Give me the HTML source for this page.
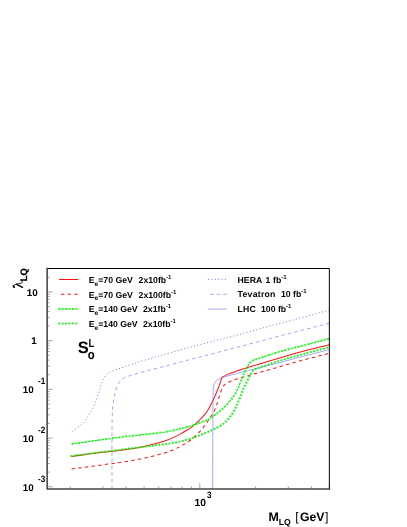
<!DOCTYPE html>
<html><head><meta charset="utf-8"><style>
html,body{margin:0;padding:0;background:#fff;}
body{width:407px;height:527px;overflow:hidden;}
svg{display:block;}
text{font-family:"Liberation Sans",sans-serif;font-weight:bold;fill:#000;text-rendering:geometricPrecision;}
.lg{font-size:8.7px;}
.sup{font-size:6.0px;}
.sub{font-size:6.6px;}
.ax{font-size:10.3px;}
.ex{font-size:8.2px;}
.ay{font-size:9.8px;}
</style></head><body>
<svg width="407" height="527" viewBox="0 0 407 527" style="will-change:transform">
<rect width="407" height="527" fill="#fff"/>
<g fill="none" stroke-linejoin="round">
<g stroke="#0000ff" stroke-width="0.35">
<path transform="translate(0.4,0.45)" d="M72.20,430.90 C73.80,429.63 75.41,428.38 77.00,427.10 C78.75,425.68 80.62,424.38 82.20,422.80 C83.78,421.22 85.20,419.43 86.50,417.60 C88.07,415.40 89.47,413.06 90.80,410.70 C92.04,408.49 93.18,406.22 94.20,403.90 C95.18,401.65 95.98,399.32 96.80,397.00 C97.61,394.72 98.38,392.41 99.10,390.10 C99.81,387.81 100.33,385.46 101.10,383.20 C101.69,381.46 102.32,379.70 103.20,378.10 C104.05,376.56 105.03,374.98 106.30,373.80 C107.50,372.68 109.09,371.92 110.60,371.20 C112.53,370.28 114.58,369.62 116.60,368.90 C119.45,367.89 122.33,366.97 125.20,366.00 C128.07,365.03 130.94,364.08 133.80,363.10 C135.04,362.68 136.25,362.18 137.50,361.80 C144.98,359.54 152.50,357.39 160.00,355.20 C167.83,352.92 175.64,350.55 183.50,348.40 C192.30,345.99 201.16,343.79 210.00,341.50 C217.63,339.52 225.29,337.64 232.90,335.60 C241.95,333.17 250.95,330.54 260.00,328.10 C268.02,325.94 276.08,323.94 284.10,321.80 C299.15,317.78 314.17,313.67 329.20,309.60" stroke-dasharray="1.0 2.4" stroke-width="0.55"/>
<path transform="translate(0.4,0.45)" d="M111.60,488.50 C111.60,470.33 111.51,452.17 111.60,434.00 C111.64,426.53 111.68,419.06 112.00,411.60 C112.15,408.16 112.55,404.72 113.00,401.30 C113.38,398.42 113.84,395.53 114.50,392.70 C115.04,390.36 115.63,387.98 116.60,385.80 C117.47,383.85 118.59,381.88 120.00,380.30 C121.16,379.01 122.76,378.04 124.30,377.20 C125.93,376.31 127.74,375.71 129.50,375.10 C131.30,374.48 133.16,374.00 135.00,373.50 C143.32,371.26 151.67,369.10 160.00,366.90 C168.33,364.70 176.66,362.48 185.00,360.30 C193.33,358.12 201.67,355.97 210.00,353.80 C218.33,351.63 226.67,349.48 235.00,347.30 C243.34,345.12 251.67,342.91 260.00,340.70 C268.03,338.57 276.06,336.39 284.10,334.30 C299.12,330.39 314.17,326.57 329.20,322.70" stroke-dasharray="3.7 2.9"/>
<path transform="translate(0.4,0.45)" d="M212.20,488.50 C212.27,472.33 212.33,456.17 212.40,440.00 C212.46,426.67 212.49,413.33 212.60,400.00 C212.63,396.53 212.55,393.05 212.80,389.60 C212.95,387.52 213.15,385.34 213.80,383.40 C214.18,382.27 215.03,381.22 215.90,380.40 C216.76,379.59 217.93,379.07 219.00,378.50 C220.07,377.93 221.16,377.38 222.30,377.00 C225.46,375.95 228.68,375.06 231.90,374.20 C232.92,373.93 233.98,373.87 235.00,373.60 C238.05,372.77 241.04,371.68 244.10,370.90 C249.37,369.55 254.72,368.53 260.00,367.20 C268.36,365.10 276.67,362.83 285.00,360.60 C290.01,359.26 294.98,357.81 300.00,356.50 C309.72,353.97 319.47,351.57 329.20,349.10"/>
<path d="M208,279.3H227" stroke-dasharray="1.0 2.4" stroke-width="0.55"/>
<path d="M208,294.3H227" stroke-dasharray="3.7 2.9" stroke-dashoffset="-2.1"/>
<path d="M208,309.1H227"/>
</g>
<g stroke="#ff1212" stroke-width="1.02">
<path transform="translate(0.4,0.45)" d="M71.20,456.00 C80.80,454.70 90.39,453.29 100.00,452.10 C104.99,451.49 110.01,451.19 115.00,450.60 C119.91,450.02 124.82,449.39 129.70,448.60 C134.65,447.79 139.60,446.88 144.50,445.80 C149.43,444.71 154.31,443.39 159.20,442.10 C161.15,441.59 163.10,441.07 165.00,440.40 C167.50,439.51 169.98,438.50 172.40,437.40 C174.88,436.27 177.31,435.02 179.70,433.70 C182.21,432.32 184.69,430.85 187.10,429.30 C189.62,427.68 192.20,426.10 194.50,424.20 C196.63,422.43 198.44,420.28 200.40,418.30 C201.48,417.21 202.62,416.18 203.60,415.00 C204.92,413.41 206.21,411.76 207.30,410.00 C208.67,407.79 209.81,405.42 211.00,403.10 C212.05,401.06 213.05,398.99 214.00,396.90 C215.09,394.49 216.12,392.06 217.10,389.60 C217.99,387.36 218.77,385.07 219.60,382.80 C220.20,381.17 220.73,379.50 221.40,377.90 C221.63,377.36 222.00,376.90 222.30,376.40 C223.83,375.67 225.33,374.84 226.90,374.20 C229.73,373.04 232.62,372.03 235.50,371.00 C238.65,369.87 241.80,368.70 245.00,367.70 C249.97,366.14 255.01,364.79 260.00,363.30 C268.34,360.82 276.65,358.24 285.00,355.80 C289.98,354.34 294.98,352.91 300.00,351.60 C309.71,349.07 319.47,346.73 329.20,344.30"/>
<path transform="translate(0.4,0.45)" d="M71.20,468.50 C80.80,467.23 90.40,465.99 100.00,464.70 C107.50,463.69 115.00,462.66 122.50,461.60 C124.90,461.26 127.31,460.93 129.70,460.50 C134.65,459.60 139.60,458.70 144.50,457.60 C149.43,456.50 154.31,455.16 159.20,453.90 C161.14,453.40 163.10,452.93 165.00,452.30 C167.50,451.47 169.97,450.52 172.40,449.50 C174.87,448.46 177.33,447.36 179.70,446.10 C182.23,444.76 184.73,443.31 187.10,441.70 C189.67,439.95 192.16,438.04 194.50,436.00 C196.59,434.18 198.58,432.19 200.40,430.10 C202.24,427.99 203.86,425.68 205.50,423.40 C207.06,421.24 208.50,419.00 210.00,416.80 C210.73,415.73 211.56,414.72 212.20,413.60 C213.12,411.99 213.98,410.32 214.70,408.60 C215.61,406.42 216.35,404.15 217.10,401.90 C217.98,399.25 218.74,396.56 219.60,393.90 C220.17,392.12 220.67,390.31 221.40,388.60 C221.97,387.25 222.80,386.00 223.50,384.70 C224.63,383.93 225.67,382.99 226.90,382.40 C229.67,381.06 232.59,379.93 235.50,378.90 C238.62,377.80 241.82,376.92 245.00,376.00 C249.99,374.55 255.01,373.22 260.00,371.80 C268.34,369.42 276.67,367.00 285.00,364.60 C290.33,363.07 295.64,361.43 301.00,360.00 C310.37,357.50 319.80,355.20 329.20,352.80" stroke-dasharray="3.35 3.35"/>
<path d="M59.1,279.5H78.1"/>
<path d="M59.1,294.3H78.1" stroke-dasharray="3.35 3.35" stroke-dashoffset="-1.8"/>
</g>
<g stroke="#00ff00">
<path transform="translate(0.4,0.45)" d="M71.20,443.40 C80.80,442.10 90.40,440.80 100.00,439.50 C108.33,438.37 116.65,437.13 125.00,436.10 C131.49,435.30 138.01,434.75 144.50,434.00 C151.34,433.21 158.21,432.60 165.00,431.50 C169.95,430.70 174.83,429.50 179.70,428.30 C184.67,427.07 189.66,425.84 194.50,424.20 C199.49,422.51 204.45,420.54 209.20,418.30 C210.95,417.48 212.45,416.16 214.00,415.00 C215.91,413.56 217.79,412.06 219.60,410.50 C221.69,408.70 223.80,406.89 225.70,404.90 C227.90,402.59 230.03,400.18 231.90,397.60 C233.73,395.08 235.41,392.39 236.80,389.60 C238.37,386.45 239.45,383.06 240.80,379.80 C241.88,377.19 242.92,374.56 244.10,372.00 C244.75,370.59 245.54,369.25 246.30,367.90 C247.40,365.95 248.33,363.83 249.70,362.10 C250.50,361.09 251.77,360.50 252.80,359.70 C255.07,359.00 257.34,358.33 259.60,357.60 C263.71,356.27 267.78,354.80 271.90,353.50 C276.25,352.13 280.61,350.80 285.00,349.60 C289.97,348.24 295.01,347.10 300.00,345.80 C309.74,343.27 319.47,340.67 329.20,338.10" stroke-width="1.2" stroke-dasharray="3.1 3.7" stroke-dashoffset="-2.6"/>
<path transform="translate(0.4,0.45)" d="M71.20,443.40 C80.80,442.10 90.40,440.80 100.00,439.50 C108.33,438.37 116.65,437.13 125.00,436.10 C131.49,435.30 138.01,434.75 144.50,434.00 C151.34,433.21 158.21,432.60 165.00,431.50 C169.95,430.70 174.83,429.50 179.70,428.30 C184.67,427.07 189.66,425.84 194.50,424.20 C199.49,422.51 204.45,420.54 209.20,418.30 C210.95,417.48 212.45,416.16 214.00,415.00 C215.91,413.56 217.79,412.06 219.60,410.50 C221.69,408.70 223.80,406.89 225.70,404.90 C227.90,402.59 230.03,400.18 231.90,397.60 C233.73,395.08 235.41,392.39 236.80,389.60 C238.37,386.45 239.45,383.06 240.80,379.80 C241.88,377.19 242.92,374.56 244.10,372.00 C244.75,370.59 245.54,369.25 246.30,367.90 C247.40,365.95 248.33,363.83 249.70,362.10 C250.50,361.09 251.77,360.50 252.80,359.70 C255.07,359.00 257.34,358.33 259.60,357.60 C263.71,356.27 267.78,354.80 271.90,353.50 C276.25,352.13 280.61,350.80 285.00,349.60 C289.97,348.24 295.01,347.10 300.00,345.80 C309.74,343.27 319.47,340.67 329.20,338.10" stroke-width="2.0" stroke-dasharray="1.6 5.2"/>
<path transform="translate(0.4,0.45)" d="M71.20,455.60 C80.80,454.30 90.39,452.95 100.00,451.70 C104.99,451.05 110.00,450.52 115.00,449.90 C119.90,449.29 124.80,448.61 129.70,448.00 C134.63,447.38 139.57,446.82 144.50,446.20 C149.40,445.59 154.30,444.92 159.20,444.30 C161.63,443.99 164.08,443.78 166.50,443.40 C170.91,442.71 175.36,442.14 179.70,441.10 C184.70,439.90 189.65,438.39 194.50,436.70 C199.48,434.96 204.36,432.91 209.20,430.80 C212.23,429.48 215.25,428.06 218.10,426.40 C220.51,424.99 222.95,423.47 225.00,421.60 C227.11,419.67 228.94,417.35 230.60,415.00 C232.44,412.41 234.05,409.63 235.50,406.80 C236.92,404.03 238.04,401.10 239.20,398.20 C240.37,395.26 241.30,392.23 242.50,389.30 C243.24,387.49 244.13,385.75 245.00,384.00 C245.73,382.52 246.56,381.08 247.30,379.60 C248.36,377.48 249.24,375.26 250.40,373.20 C251.08,371.99 251.78,370.67 252.80,369.80 C253.81,368.94 255.27,368.60 256.50,368.00 C259.57,366.93 262.63,365.85 265.70,364.80 C268.96,363.68 272.22,362.55 275.50,361.50 C278.65,360.49 281.82,359.52 285.00,358.60 C289.99,357.15 294.99,355.75 300.00,354.40 C309.72,351.78 319.47,349.27 329.20,346.70" stroke-width="2.05" stroke-dasharray="0.01 3.39" stroke-linecap="round"/>
<path d="M58.4,308.9H78.1" stroke-width="1.2" stroke-dasharray="3.1 3.7" stroke-dashoffset="-2.6"/>
<path d="M58.4,308.9H78.1" stroke-width="2.0" stroke-dasharray="1.6 5.2"/>
<path d="M59.2,323.5H78.1" stroke-width="2.05" stroke-dasharray="0.01 3.39" stroke-linecap="round"/>
</g>
</g>
<g stroke="#000" stroke-width="0.36" fill="none"><line x1="47.1" x2="52.70" y1="486.79" y2="486.79"/><line x1="47.1" x2="49.80" y1="472.13" y2="472.13"/><line x1="47.1" x2="49.80" y1="463.55" y2="463.55"/><line x1="47.1" x2="49.80" y1="457.47" y2="457.47"/><line x1="47.1" x2="49.80" y1="452.75" y2="452.75"/><line x1="47.1" x2="49.80" y1="448.89" y2="448.89"/><line x1="47.1" x2="49.80" y1="445.63" y2="445.63"/><line x1="47.1" x2="49.80" y1="442.81" y2="442.81"/><line x1="47.1" x2="49.80" y1="440.31" y2="440.31"/><line x1="47.1" x2="52.70" y1="438.09" y2="438.09"/><line x1="47.1" x2="49.80" y1="423.43" y2="423.43"/><line x1="47.1" x2="49.80" y1="414.85" y2="414.85"/><line x1="47.1" x2="49.80" y1="408.77" y2="408.77"/><line x1="47.1" x2="49.80" y1="404.05" y2="404.05"/><line x1="47.1" x2="49.80" y1="400.19" y2="400.19"/><line x1="47.1" x2="49.80" y1="396.93" y2="396.93"/><line x1="47.1" x2="49.80" y1="394.11" y2="394.11"/><line x1="47.1" x2="49.80" y1="391.61" y2="391.61"/><line x1="47.1" x2="52.70" y1="389.39" y2="389.39"/><line x1="47.1" x2="49.80" y1="374.73" y2="374.73"/><line x1="47.1" x2="49.80" y1="366.15" y2="366.15"/><line x1="47.1" x2="49.80" y1="360.07" y2="360.07"/><line x1="47.1" x2="49.80" y1="355.35" y2="355.35"/><line x1="47.1" x2="49.80" y1="351.49" y2="351.49"/><line x1="47.1" x2="49.80" y1="348.23" y2="348.23"/><line x1="47.1" x2="49.80" y1="345.41" y2="345.41"/><line x1="47.1" x2="49.80" y1="342.91" y2="342.91"/><line x1="47.1" x2="52.70" y1="340.69" y2="340.69"/><line x1="47.1" x2="49.80" y1="326.03" y2="326.03"/><line x1="47.1" x2="49.80" y1="317.45" y2="317.45"/><line x1="47.1" x2="49.80" y1="311.37" y2="311.37"/><line x1="47.1" x2="49.80" y1="306.65" y2="306.65"/><line x1="47.1" x2="49.80" y1="302.79" y2="302.79"/><line x1="47.1" x2="49.80" y1="299.53" y2="299.53"/><line x1="47.1" x2="49.80" y1="296.71" y2="296.71"/><line x1="47.1" x2="49.80" y1="294.21" y2="294.21"/><line x1="47.1" x2="52.70" y1="291.99" y2="291.99"/><line x1="47.1" x2="49.80" y1="277.33" y2="277.33"/><line x1="47.1" x2="49.80" y1="268.75" y2="268.75"/><line y1="488.9" y2="486.20" x1="70.26" x2="70.26"/><line y1="488.9" y2="486.20" x1="102.90" x2="102.90"/><line y1="488.9" y2="486.20" x1="126.06" x2="126.06"/><line y1="488.9" y2="486.20" x1="144.03" x2="144.03"/><line y1="488.9" y2="486.20" x1="158.71" x2="158.71"/><line y1="488.9" y2="486.20" x1="171.12" x2="171.12"/><line y1="488.9" y2="486.20" x1="181.87" x2="181.87"/><line y1="488.9" y2="486.20" x1="191.35" x2="191.35"/><line y1="488.9" y2="483.30" x1="199.83" x2="199.83"/><line y1="488.9" y2="486.20" x1="255.63" x2="255.63"/><line y1="488.9" y2="486.20" x1="288.28" x2="288.28"/><line y1="488.9" y2="486.20" x1="311.44" x2="311.44"/><line y1="488.9" y2="486.20" x1="329.40" x2="329.40"/></g>
<g fill="none" stroke-linecap="square">
<path d="M47.15,268.5H329.35V489.0" stroke="#000" stroke-width="1.0"/>
<path d="M47.15,268.5V489.0H329.35" stroke="#464646" stroke-width="1.55"/>
</g>
<g class="lg">
<text x="88.8" y="282.8" class="lg">E<tspan class="sub" dy="2.9">e</tspan><tspan dy="-2.9">=70 GeV  </tspan><tspan x="138.6">2x10fb</tspan><tspan class="sup" dy="-4.0">-1</tspan></text>
<text x="88.8" y="297.5" class="lg">E<tspan class="sub" dy="2.9">e</tspan><tspan dy="-2.9">=70 GeV  </tspan><tspan x="138.6">2x100fb</tspan><tspan class="sup" dy="-4.0">-1</tspan></text>
<text x="88.8" y="312.1" class="lg">E<tspan class="sub" dy="2.9">e</tspan><tspan dy="-2.9">=140 GeV  </tspan><tspan x="143">2x1fb</tspan><tspan class="sup" dy="-4.0">-1</tspan></text>
<text x="88.8" y="326.7" class="lg">E<tspan class="sub" dy="2.9">e</tspan><tspan dy="-2.9">=140 GeV  </tspan><tspan x="143">2x10fb</tspan><tspan class="sup" dy="-4.0">-1</tspan></text>
<text x="237.6" y="282.8" class="lg">HERA <tspan x="265.6">1</tspan> <tspan x="273.0">fb</tspan><tspan class="sup" dy="-4.0">-1</tspan></text>
<text x="237.6" y="297.4" class="lg"><tspan letter-spacing="0.25">Tevatron</tspan>  <tspan x="281">10 fb</tspan><tspan class="sup" dy="-4.0">-1</tspan></text>
<text x="237.6" y="312.0" class="lg"><tspan letter-spacing="0.2">LHC</tspan>  <tspan x="261">100 fb</tspan><tspan class="sup" dy="-4.0">-1</tspan></text>
</g>
<text x="77.7" y="353.2" font-size="16.5">S</text>
<text transform="translate(88.6,347.0) scale(0.9,1.1)" font-size="10.6">L</text>
<text transform="translate(87.7,358.5) scale(1,1.16)" font-size="11.4">o</text>
<g class="ax">
<text x="26.7" y="295.6" class="ay">10</text>
<text x="31.2" y="344.0" class="ay">1</text>
<text x="22.8" y="393.4" class="ay">10</text><text transform="translate(38.0,384.4) scale(1,1.12)" class="ex">-1</text>
<text x="22.8" y="442.1" class="ay">10</text><text transform="translate(38.0,433.1) scale(1,1.12)" class="ex">-2</text>
<text x="22.8" y="490.8" class="ay">10</text><text transform="translate(38.0,481.8) scale(1,1.12)" class="ex">-3</text>
<text x="194.5" y="505.7">10</text><text transform="translate(207,498.0) scale(1,1.12)" class="ex">3</text>
</g>
<g fill="none" stroke="#000" stroke-linecap="round"><path d="M14.5,287.4 C13.6,287.5 13.1,286.6 13.3,285.8 C13.5,285.0 14.3,284.8 15.2,284.5 C17.0,284.0 19.5,283.6 21.2,283.1 C22.4,282.8 22.8,282.2 22.3,281.6 C22.0,281.2 21.5,280.9 21.1,280.6" stroke-width="0.85"/><path d="M14.3,287.2 C13.6,287.2 13.3,286.5 13.5,285.8" stroke-width="1.5"/><path d="M16.8,284.3 L22.4,287.3" stroke-width="1.45"/></g>
<text transform="translate(26.8,281.2) rotate(-90)" font-size="9.3" stroke="#000" stroke-width="0.25">LQ</text>
<text x="268.4" y="521.2" font-size="12.4">M</text>
<text x="278.8" y="524.5" font-size="8.6">LQ</text>
<text x="295.3" y="521.0" font-size="12.3" style="font-weight:normal">[</text>
<text x="299.9" y="521.2" font-size="12.3">GeV</text>
<text x="325.1" y="521.0" font-size="12.3" style="font-weight:normal">]</text>
</svg>
</body></html>
